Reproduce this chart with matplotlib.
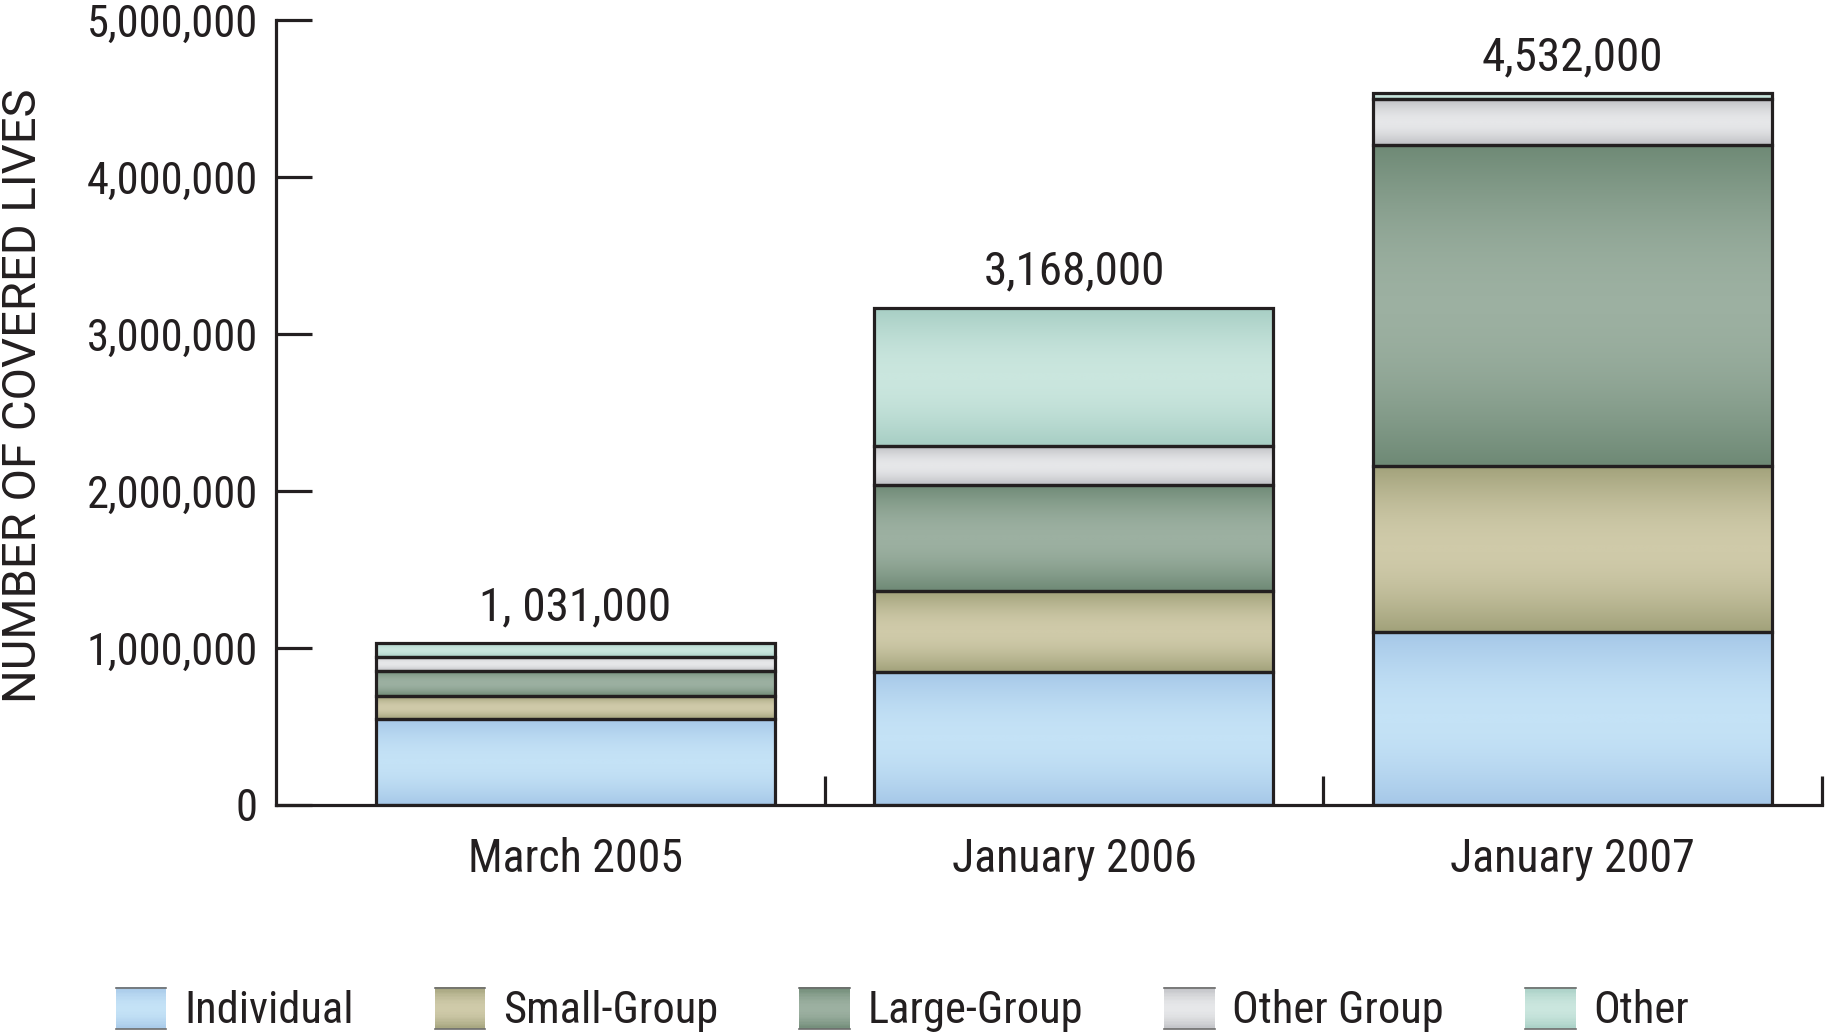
import numpy as np
import matplotlib
matplotlib.use('Agg')
import matplotlib.pyplot as plt
from matplotlib import font_manager
from matplotlib.colors import LinearSegmentedColormap
from matplotlib.patches import Rectangle
from matplotlib.lines import Line2D
from matplotlib.legend_handler import HandlerBase
from matplotlib.ticker import FuncFormatter

# condensed sans, falling back to what is there
installed = {f.name for f in font_manager.fontManager.ttflist}
narrow = [n for n in ['Roboto Condensed', 'Liberation Sans Narrow', 'Roboto']
          if n in installed]
plt.rcParams['font.family'] = narrow + ['DejaVu Sans']

periods = ['March 2005', 'January 2006', 'January 2007']
segments = ['Individual', 'Small-Group', 'Large-Group', 'Other Group', 'Other']
# covered lives, in thousands
individual = [550, 850, 1100]
small_group = [145, 510, 1060]
large_group = [160, 680, 2045]
other_group = [90, 245, 290]
other = [86, 883, 37]
total_labels = ['1, 031,000', '3,168,000', '4,532,000']

# (edge shade, middle highlight) for each segment
shades = [('#a6c8e8', '#c4e2f6'),
          ('#a2a27b', '#cfcaa9'),
          ('#6f8a76', '#9cb0a1'),
          ('#bfc0c4', '#e6e7e9'),
          ('#a7cec4', '#cae6de')]

ink = '#231f20'
profile = np.sin(np.linspace(0, np.pi, 64))[:, None]


def shade_cmap(edge, mid):
    return LinearSegmentedColormap.from_list('shade', [edge, mid])


class Swatch:
    def __init__(self, edge, mid):
        self.edge = edge
        self.mid = mid


class SwatchHandler(HandlerBase):
    def create_artists(self, legend, orig_handle, xdescent, ydescent,
                       width, height, fontsize, trans):
        cmap = shade_cmap(orig_handle.edge, orig_handle.mid)
        n = 30
        h = height / n
        arts = []
        for i in range(n):
            v = np.sin(np.pi * (i + 0.5) / n)
            arts.append(Rectangle((-xdescent, -ydescent + i * h), width, h * 1.05,
                                  facecolor=cmap(v), edgecolor='none',
                                  transform=trans))
        for yy in (-ydescent, -ydescent + height):
            arts.append(Line2D([-xdescent, -xdescent + width], [yy, yy],
                               color='#6d6d6d', lw=1.2, transform=trans))
        return arts


fig = plt.figure(figsize=(18.25, 10.36), dpi=100)
ax = fig.add_axes([0.1512, 0.2230, 0.9984 - 0.1512, 0.9807 - 0.2230])

x = np.arange(len(periods))
width = 0.8
series = [individual, small_group, large_group, other_group, other]

bottom = np.zeros(len(periods))
for vals, (edge, mid) in zip(series, shades):
    vals = np.array(vals) * 1000.0
    bars = ax.bar(x, vals, width, bottom=bottom, facecolor='none',
                  edgecolor=ink, linewidth=2.3, zorder=3)
    # vertical shading inside each segment
    for b in bars:
        x0, y0 = b.get_x(), b.get_y()
        ax.imshow(profile, cmap=shade_cmap(edge, mid), vmin=0, vmax=1,
                  extent=(x0, x0 + b.get_width(), y0, y0 + b.get_height()),
                  aspect='auto', interpolation='bilinear', zorder=2)
    bottom += vals

# totals above the bars
for xi, tot, lab in zip(x, bottom, total_labels):
    ax.annotate(lab, (xi, tot), xytext=(0, 26), textcoords='offset points',
                ha='center', va='center', fontsize=34, color=ink)

ax.set_xlim(-0.6, 2.5)
ax.set_ylim(0, 5e6)
for s in ['top', 'right']:
    ax.spines[s].set_visible(False)
for s in ['left', 'bottom']:
    ax.spines[s].set_linewidth(2.3)
    ax.spines[s].set_color(ink)

ax.set_yticks(np.arange(0, 5e6 + 1, 1e6))
ax.yaxis.set_major_formatter(FuncFormatter(lambda v, p: f'{v:,.0f}'))
ax.tick_params(axis='y', direction='in', length=26, width=2.3, pad=13,
               labelsize=32, color=ink, labelcolor=ink)

ax.set_xticks(x, periods)
ax.set_xticks([0.5, 1.5, 2.5], minor=True)
ax.tick_params(axis='x', which='major', length=0, pad=23, labelsize=33,
               labelcolor=ink)
ax.tick_params(axis='x', which='minor', direction='in', length=21,
               width=2.3, color=ink)

fig.text(23 / 1825, 1 - 396 / 1036, 'NUMBER OF COVERED LIVES', rotation=90,
         ha='center', va='center', fontsize=34, color=ink,
         family=['Roboto', 'DejaVu Sans'])

handles = [Swatch(e, m) for e, m in shades]
fig.legend(handles, segments, handler_map={Swatch: SwatchHandler()},
           loc='center left', bbox_to_anchor=(116 / 1825, 1 - 1010 / 1036),
           ncol=5, frameon=False, fontsize=32, labelcolor=ink,
           handlelength=1.13, handleheight=1.06, handletextpad=0.4,
           columnspacing=1.83, borderpad=0, borderaxespad=0)

fig.savefig('out.png', dpi=100)
